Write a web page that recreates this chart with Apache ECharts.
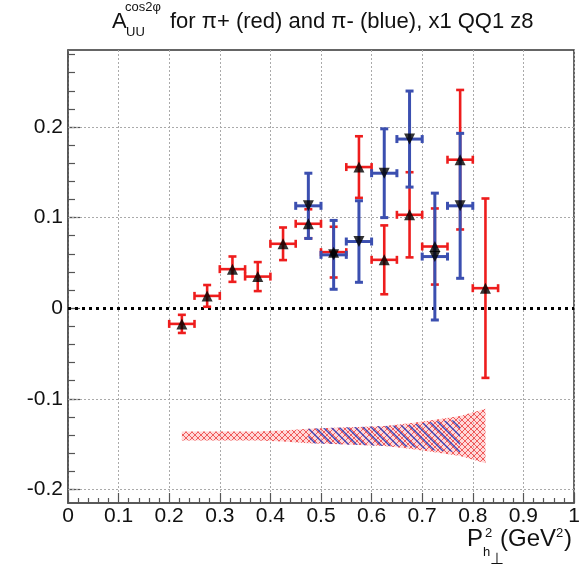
<!DOCTYPE html>
<html><head><meta charset="utf-8">
<script src="https://cdn.jsdelivr.net/npm/echarts@6/dist/echarts.min.js"></script>
<style>html,body{margin:0;padding:0;background:#fff}#c{width:587px;height:567px}</style>
</head><body><div id="c"></div>
<script>
// ---- data ----
const redX    = [0.225,0.275,0.325,0.375,0.425,0.475,0.525,0.575,0.625,0.675,0.725,0.775,0.825];
const redY    = [-0.0173,0.0136,0.0431,0.0349,0.0711,0.0932,0.0619,0.1558,0.0534,0.1031,0.0681,0.1639,0.0221];
const redErr  = [0.010,0.012,0.014,0.016,0.018,0.016,0.028,0.034,0.038,0.047,0.042,0.077,0.099];
const redXErr = [0.025,0.025,0.025,0.025,0.025,0.025,0.025,0.025,0.025,0.025,0.025,0.025,0.025];

const blueX    = [0.475,0.525,0.575,0.625,0.675,0.725,0.775];
const blueY    = [0.1130,0.0589,0.0736,0.1490,0.1867,0.0570,0.1130];
const blueErr  = [0.036,0.038,0.045,0.049,0.053,0.070,0.080];
const blueXErr = [0.025,0.025,0.025,0.025,0.025,0.025,0.025];

const sysCenter   = -0.141;
const redSysHalf  = [0.005,0.005,0.005,0.005,0.006,0.008,0.009,0.010,0.011,0.014,0.018,0.022,0.030];
const blueSysHalf = [0.008,0.009,0.010,0.011,0.012,0.016,0.018];

const xTickInterval = 0.1;
const yMajorTicks = [-0.2,-0.1,0,0.1,0.2];
const yMinorTicks = [-0.2,-0.18,-0.16,-0.14,-0.12,-0.1,-0.08,-0.06,-0.04,-0.02,0,0.02,0.04,0.06,0.08,0.1,0.12,0.14,0.16,0.18,0.2,0.22,0.24,0.26,0.28];
const yGridLines = [-0.2,-0.1,0.1,0.2];

// ---- patterns ----
function redPattern(){
  const c=document.createElement('canvas'); c.width=6; c.height=6;
  const g=c.getContext('2d');
  g.fillStyle='rgba(255,170,170,0.45)'; g.fillRect(0,0,6,6);
  g.strokeStyle='rgba(235,50,50,0.75)'; g.lineWidth=1;
  g.beginPath(); g.moveTo(0,0); g.lineTo(6,6); g.moveTo(6,0); g.lineTo(0,6); g.stroke();
  return c;
}
function bluePattern(){
  const c=document.createElement('canvas'); c.width=8; c.height=8;
  const g=c.getContext('2d');
  g.strokeStyle='rgba(50,70,190,0.95)'; g.lineWidth=1.4;
  g.beginPath(); g.moveTo(0,0); g.lineTo(8,8); g.moveTo(-2,6); g.lineTo(2,10); g.moveTo(6,-2); g.lineTo(10,2); g.stroke();
  return c;
}

const RED='#ee1d1d', BLUE='#3b4fb0';
const FONT='Liberation Sans, Arial, sans-serif';

function errRender(color, lw){
  return function(params, api){
    const x=api.value(0), y=api.value(1), ey=api.value(2), ex=api.value(3);
    const t=api.coord([x,y+ey]), b=api.coord([x,y-ey]);
    const l=api.coord([x-ex,y]), r=api.coord([x+ex,y]);
    const c=4, st={stroke:color,lineWidth:lw};
    const L=(x1,y1,x2,y2)=>({type:'line',shape:{x1,y1,x2,y2},style:st});
    return {type:'group',children:[
      L(t[0],t[1],b[0],b[1]), L(t[0]-c,t[1],t[0]+c,t[1]), L(b[0]-c,b[1],b[0]+c,b[1]),
      L(l[0],l[1],r[0],r[1]), L(l[0],l[1]-c,l[0],l[1]+c), L(r[0],r[1]-c,r[0],r[1]+c)
    ]};
  };
}
function bandRender(xs, halves, fill){
  return function(params, api){
    if(params.dataIndex!==0) return null;
    const up=[], lo=[];
    for(let i=0;i<xs.length;i++){
      up.push(api.coord([xs[i], sysCenter+halves[i]]));
      lo.unshift(api.coord([xs[i], sysCenter-halves[i]]));
    }
    return {type:'polygon',shape:{points:up.concat(lo)},style:{fill:fill}};
  };
}

const chart=echarts.init(document.getElementById('c'),null,{renderer:'canvas'});
const lbl={fontSize:21,color:'#111',fontFamily:FONT};
chart.setOption({
  animation:false,
  backgroundColor:'#fff',
  title:[
    {text:'A',left:112,top:10.5,padding:0,textStyle:{fontSize:22,fontWeight:'normal',color:'#111',fontFamily:FONT}},
    {text:'UU',left:126,top:25.5,padding:0,textStyle:{fontSize:13,fontWeight:'normal',color:'#111',fontFamily:FONT}},
    {text:'cos2φ',left:125,top:1,padding:0,textStyle:{fontSize:13,fontWeight:'normal',color:'#111',fontFamily:FONT}},
    {text:'for π+ (red) and π- (blue), x1 QQ1 z8',left:170,top:10.5,padding:0,textStyle:{fontSize:22,fontWeight:'normal',color:'#111',fontFamily:FONT}}
  ],
  grid:{left:68,right:13,top:50,bottom:64,show:true,borderColor:'#333',borderWidth:1.5,outerBoundsMode:'none',containLabel:false},
  xAxis:{type:'value',min:0,max:1,interval:xTickInterval,
    axisLine:{onZero:false,lineStyle:{color:'#555',width:1.5}},
    axisTick:{inside:true,length:10,lineStyle:{color:'#555',width:1.2}},
    minorTick:{show:true,splitNumber:5,length:5,lineStyle:{color:'#555',width:1.2}},
    splitLine:{show:true,lineStyle:{color:'#aaa',type:[2,2],width:1}},
    axisLabel:Object.assign({margin:3},lbl)
  },
  yAxis:[
    {type:'value',min:-0.215,max:0.285,position:'left',
      axisLine:{show:true,onZero:false,lineStyle:{color:'#555',width:1.5}},
      axisTick:{show:true,inside:true,length:12,customValues:yMajorTicks,lineStyle:{color:'#555',width:1.2}},
      axisLabel:Object.assign({margin:5,customValues:yMajorTicks},lbl),
      splitLine:{show:false}
    },
    {type:'value',min:-0.215,max:0.285,position:'left',offset:0,
      axisLine:{show:false,onZero:false},
      axisTick:{show:true,inside:true,length:7,customValues:yMinorTicks,lineStyle:{color:'#555',width:1.2}},
      axisLabel:{show:false},
      splitLine:{show:false}
    }
  ],
  graphic:[
    {type:'text',left:467,top:527.5,style:{text:'P',fontSize:24,fill:'#111',fontFamily:FONT}},
    {type:'text',left:485,top:527,style:{text:'2',fontSize:13,fill:'#111',fontFamily:FONT}},
    {type:'text',left:483,top:546,style:{text:'h',fontSize:13,fill:'#111',fontFamily:FONT}},
    {type:'text',left:490,top:552,style:{text:'⊥',fontSize:16,fill:'#111',fontFamily:FONT}},
    {type:'text',left:500,top:527.5,style:{text:'(GeV',fontSize:24,fill:'#111',fontFamily:FONT}},
    {type:'text',left:556,top:527,style:{text:'2',fontSize:13,fill:'#111',fontFamily:FONT}},
    {type:'text',left:564,top:527.5,style:{text:')',fontSize:24,fill:'#111',fontFamily:FONT}}
  ],
  series:[
    {type:'line',data:[],z:1,silent:true,
      markLine:{silent:true,symbol:['none','none'],label:{show:false},
        lineStyle:{color:'#aaa',type:[2,2],width:1},
        data:yGridLines.map(v=>({yAxis:v}))}
    },
    {type:'line',data:[],z:2,silent:true,
      markLine:{silent:true,symbol:['none','none'],label:{show:false},
        lineStyle:{color:'#000',type:[3,4],width:3},
        data:[{yAxis:0}]}
    },
    {type:'custom',z:3,silent:true,renderItem:bandRender(redX,redSysHalf,{image:redPattern(),repeat:'repeat'}),
      data:redX.map((x,i)=>[x,sysCenter,redSysHalf[i]]),encode:{x:0,y:1}},
    {type:'custom',z:4,silent:true,renderItem:bandRender(blueX,blueSysHalf,{image:bluePattern(),repeat:'repeat'}),
      data:blueX.map((x,i)=>[x,sysCenter,blueSysHalf[i]]),encode:{x:0,y:1}},
    {type:'custom',z:5,silent:true,renderItem:errRender(RED,2.6),
      data:redX.map((x,i)=>[x,redY[i],redErr[i],redXErr[i]]),encode:{x:0,y:1}},
    {type:'custom',z:6,silent:true,renderItem:errRender(BLUE,3),
      data:blueX.map((x,i)=>[x,blueY[i],blueErr[i],blueXErr[i]]),encode:{x:0,y:1}},
    {type:'scatter',z:7,silent:true,symbol:'triangle',symbolSize:11,itemStyle:{color:'#000'},
      data:redX.map((x,i)=>[x,redY[i]])},
    {type:'scatter',z:8,silent:true,symbol:'triangle',symbolSize:11,symbolRotate:180,itemStyle:{color:'#000'},
      data:blueX.map((x,i)=>[x,blueY[i]])}
  ]
});
</script></body></html>
